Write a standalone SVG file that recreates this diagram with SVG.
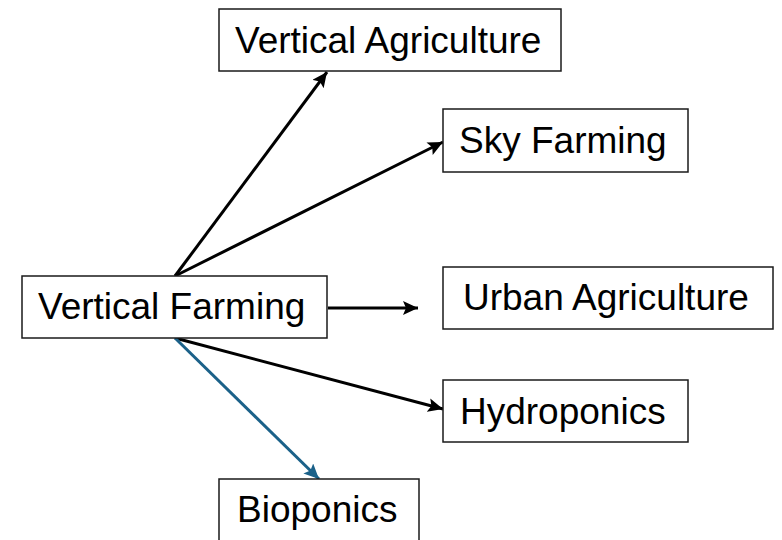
<svg xmlns="http://www.w3.org/2000/svg" width="782" height="540" viewBox="0 0 782 540">
<style>
.box{fill:#fff;stroke:#1a1a1a;stroke-width:1.5}
.lbl{font-family:"Liberation Sans",Arial,sans-serif;font-size:37px;fill:#000}
.con{stroke:#000;stroke-width:3;fill:none}
.blue{stroke:#1b6189}
</style>
<defs>
<marker id="ah" markerUnits="userSpaceOnUse" markerWidth="16" markerHeight="14" refX="15" refY="7" orient="auto">
<path d="M0,0 L15,7 L0,14 L3,7 Z" fill="#000"/>
</marker>
<marker id="ahb" markerUnits="userSpaceOnUse" markerWidth="16" markerHeight="14" refX="15" refY="7" orient="auto">
<path d="M0,0 L15,7 L0,14 L3,7 Z" fill="#1b6189"/>
</marker>
</defs>
<rect width="782" height="540" fill="#fff"/>
<g id="connectors">
<line class="con" x1="175" y1="276" x2="327" y2="72" marker-end="url(#ah)"/>
<line class="con" x1="175" y1="276" x2="443" y2="142" marker-end="url(#ah)"/>
<line class="con" x1="328" y1="308" x2="418" y2="308" marker-end="url(#ah)"/>
<line class="con" x1="175" y1="338" x2="443" y2="409" marker-end="url(#ah)"/>
<line class="con blue" x1="175" y1="338" x2="319" y2="479" marker-end="url(#ahb)"/>
</g>
<g id="vertical-agriculture">
<rect class="box" x="219" y="9" width="342" height="62"/>
<text class="lbl" x="235" y="53">Vertical Agriculture</text>
</g>
<g id="sky-farming">
<rect class="box" x="443" y="109" width="245" height="63"/>
<text class="lbl" x="459" y="153">Sky Farming</text>
</g>
<g id="vertical-farming">
<rect class="box" x="22" y="276" width="305" height="62"/>
<text class="lbl" x="38" y="319">Vertical Farming</text>
</g>
<g id="urban-agriculture">
<rect class="box" x="443" y="267" width="330" height="62"/>
<text class="lbl" x="463" y="310">Urban Agriculture</text>
</g>
<g id="hydroponics">
<rect class="box" x="443" y="380" width="245" height="62"/>
<text class="lbl" x="460" y="424">Hydroponics</text>
</g>
<g id="bioponics">
<rect class="box" x="219" y="479" width="200" height="62"/>
<text class="lbl" x="237" y="522">Bioponics</text>
</g>
</svg>
